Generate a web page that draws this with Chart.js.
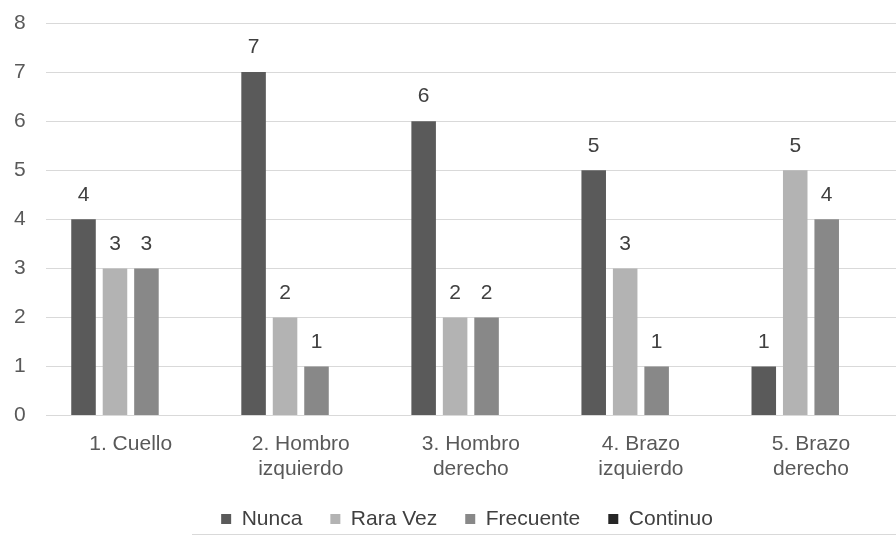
<!DOCTYPE html>
<html>
<head>
<meta charset="utf-8">
<script src="https://cdn.jsdelivr.net/npm/chart.js@4"></script>
<style>
  html, body { margin: 0; padding: 0; background: #ffffff; }
  #wrap { width: 896px; height: 536px; position: relative; }
</style>
</head>
<body>
<div id="wrap"><canvas id="chart"></canvas></div>
<script>
// Body regions surveyed
const categories = [
  ["1. Cuello"],
  ["2. Hombro", "izquierdo"],
  ["3. Hombro", "derecho"],
  ["4. Brazo", "izquierdo"],
  ["5. Brazo", "derecho"]
];
const seriesNames = ["Nunca", "Rara Vez", "Frecuente", "Continuo"];
const nunca = [4, 7, 6, 5, 1];
const raraVez = [3, 2, 2, 3, 5];
const frecuente = [3, 1, 2, 1, 4];
const continuo = [0, 0, 0, 0, 0];
const yTicks = [0, 1, 2, 3, 4, 5, 6, 7, 8];

const colors = ["#5a5a5a", "#b3b3b3", "#888888", "#262626"];
const FONT = "'Liberation Sans', Arial, sans-serif";
const FS = 21;

// Value labels above each non-zero bar
const valueLabels = {
  id: "valueLabels",
  afterDatasetsDraw(chart) {
    const ctx = chart.ctx;
    ctx.save();
    ctx.font = FS + "px " + FONT;
    ctx.fillStyle = "#404040";
    ctx.textAlign = "center";
    ctx.textBaseline = "bottom";
    chart.data.datasets.forEach((ds, i) => {
      const meta = chart.getDatasetMeta(i);
      meta.data.forEach((bar, j) => {
        const v = ds.data[j];
        if (v > 0) ctx.fillText(String(v), bar.x, bar.y - 14);
      });
    });
    ctx.restore();
  }
};

// Legend sits a little right of centre and overlaps the axis box; thin rule beneath it
const legendPlace = {
  id: "legendPlace",
  afterLayout(chart) {
    const lg = chart.legend;
    if (lg) {
      lg.left += 22;
      lg.right += 22;
      lg.top -= 9.5;
      lg.bottom -= 9.5;
    }
  },
  afterDraw(chart) {
    const ctx = chart.ctx;
    ctx.save();
    ctx.strokeStyle = "#d9d9d9";
    ctx.lineWidth = 1;
    ctx.beginPath();
    ctx.moveTo(192, 534.5);
    ctx.lineTo(896, 534.5);
    ctx.stroke();
    ctx.restore();
  }
};

const datasets = [nunca, raraVez, frecuente, continuo].map((d, i) => ({
  label: seriesNames[i],
  data: d,
  backgroundColor: colors[i],
  borderWidth: 0,
  categoryPercentage: 0.74,
  barPercentage: 0.78
}));

new Chart(document.getElementById("chart"), {
  type: "bar",
  data: { labels: categories, datasets },
  plugins: [valueLabels, legendPlace],
  options: {
    responsive: true,
    maintainAspectRatio: false,
    animation: false,
    layout: { padding: { top: 23, right: 0, left: -6, bottom: 0 } },
    plugins: {
      tooltip: { enabled: false },
      legend: {
        position: "bottom",
        maxHeight: 46,
        labels: {
          color: "#404040",
          font: { family: FONT, size: FS },
          boxWidth: 10,
          boxHeight: 10,
          padding: 28
        }
      }
    },
    scales: {
      x: {
        grid: { display: false },
        border: { display: false },
        ticks: {
          color: "#595959",
          font: { family: FONT, size: FS, lineHeight: 1.2 },
          maxRotation: 0,
          padding: 8
        }
      },
      y: {
        min: 0,
        max: 8,
        afterBuildTicks(scale) { scale.ticks = yTicks.map(v => ({ value: v })); },
        afterFit(scale) { scale.paddingTop = 0; },
        grid: { color: "#d9d9d9", lineWidth: 1, drawTicks: false },
        border: { display: false },
        ticks: {
          color: "#595959",
          font: { family: FONT, size: FS },
          padding: 20
        }
      }
    }
  }
});
</script>
</body>
</html>
